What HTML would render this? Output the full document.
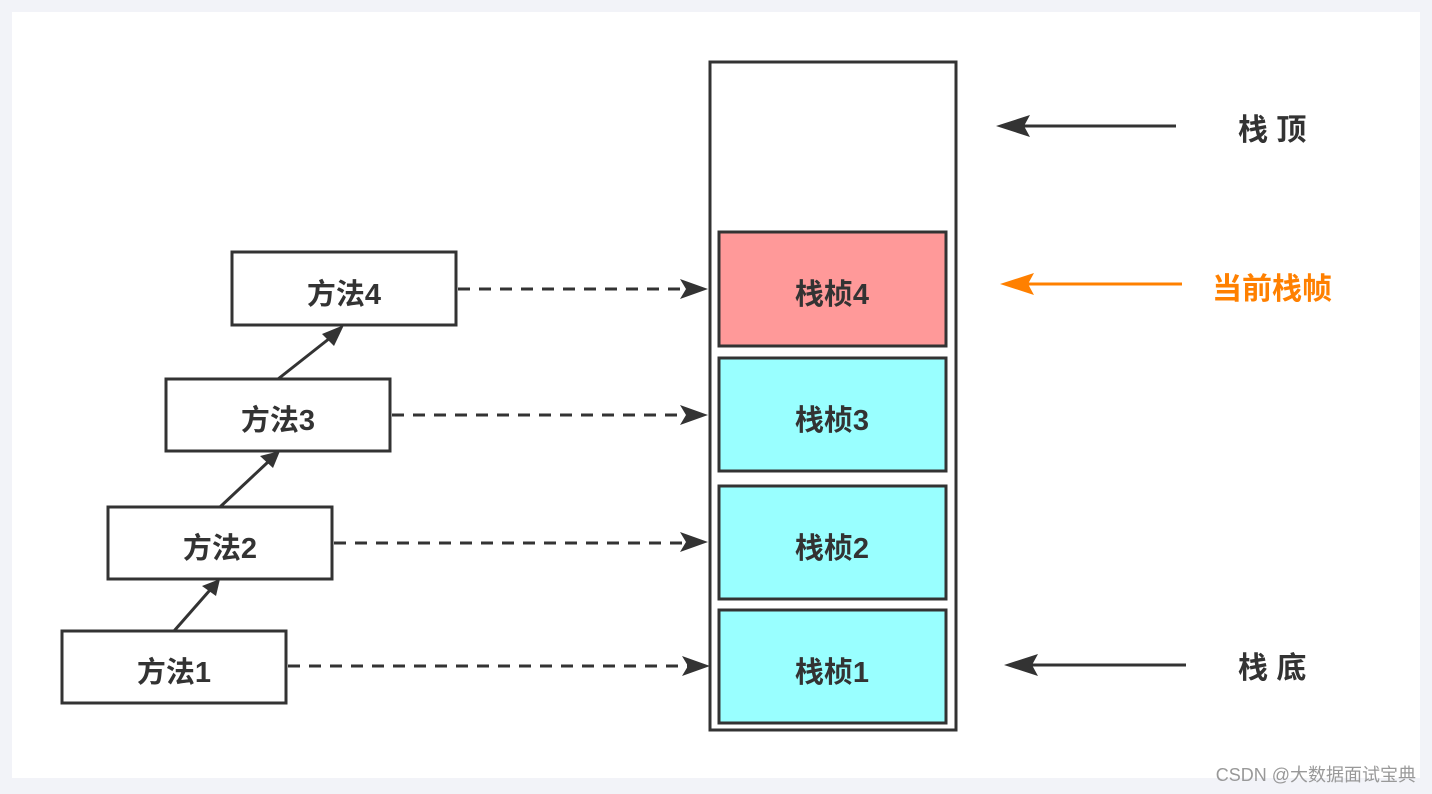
<!DOCTYPE html>
<html><head><meta charset="utf-8"><style>
html,body{margin:0;padding:0;background:#f2f3f8;}
svg{display:block}
text{font-family:"Liberation Sans","Noto Sans CJK SC",sans-serif;font-weight:bold;fill:#333;}
</style></head><body>
<svg width="1432" height="794" viewBox="0 0 1432 794" xmlns="http://www.w3.org/2000/svg">
<defs>
<marker id="a" viewBox="0 0 10 10" refX="9" refY="5" markerWidth="7" markerHeight="7" orient="auto" markerUnits="userSpaceOnUse"><path d="M0,0 L10,5 L0,10 L3,5 z" fill="#333"/></marker>
</defs>
<rect x="12" y="12" width="1408" height="766" fill="#fff"/>
<g fill="#fff" stroke="#333" stroke-width="3">
<rect x="232" y="252" width="224" height="73"/>
<rect x="166" y="379" width="224" height="72"/>
<rect x="108" y="507" width="224" height="72"/>
<rect x="62" y="631" width="224" height="72"/>
<rect x="710" y="62" width="246" height="668"/>
<rect x="719" y="232" width="227" height="114" fill="#ff9999"/>
<rect x="719" y="358" width="227" height="113" fill="#99ffff"/>
<rect x="719" y="486" width="227" height="113" fill="#99ffff"/>
<rect x="719" y="610" width="227" height="113" fill="#99ffff"/>
</g>
<g font-size="29" text-anchor="middle">
<text x="344" y="304">方法4</text>
<text x="278" y="430">方法3</text>
<text x="220" y="558">方法2</text>
<text x="174" y="682">方法1</text>
<text x="832" y="304">栈桢4</text>
<text x="832" y="430">栈桢3</text>
<text x="832" y="558">栈桢2</text>
<text x="832" y="682">栈桢1</text>
</g>
<g stroke="#333" stroke-width="3" stroke-dasharray="12,9" fill="none">
<path d="M458 289 H690"/><path d="M392 415 H690"/><path d="M334 543 H690"/><path d="M288 666 H690"/>
</g>
<g fill="#333">
<path d="M708 289 L680 279 L686 289 L680 299z"/>
<path d="M708 415 L680 405 L686 415 L680 425z"/>
<path d="M708 542 L680 532 L686 542 L680 552z"/>
<path d="M710 666 L682 656 L688 666 L682 676z"/>
</g>
<g stroke="#333" stroke-width="3">
<path d="M278 379 L330 338"/><path d="M220 507 L268 462"/><path d="M174 631 L210 590"/>
<path d="M1176 126 H1010"/><path d="M1186 665 H1020"/>
</g>
<g fill="#333">
<path d="M344 325 L322 334 L334 346z"/>
<path d="M280 451 L260 456 L273 468z"/>
<path d="M220 579 L202 586 L216 596z"/>
<path d="M996 126 L1030 115 L1024 126 L1030 137z"/>
<path d="M1004 665 L1038 654 L1032 665 L1038 676z"/>
</g>
<path d="M1182 284 H1016" stroke="#ff8000" stroke-width="3"/>
<path d="M1000 284 L1034 273 L1028 284 L1034 295z" fill="#ff8000"/>
<g font-size="30">
<text x="1238" y="140">栈 顶</text>
<text x="1238" y="678">栈 底</text>
<text x="1212" y="299" style="fill:#ff8000">当前栈帧</text>
</g>
<text x="1416" y="781" font-size="18" text-anchor="end" style="font-weight:normal;fill:#999">CSDN @大数据面试宝典</text>
</svg>
</body></html>
